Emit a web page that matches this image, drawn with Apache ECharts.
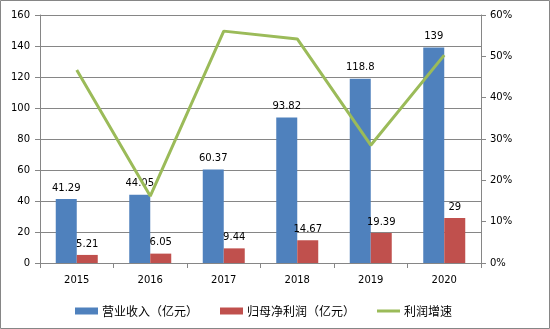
<!DOCTYPE html>
<html><head><meta charset="utf-8">
<script src="https://cdn.jsdelivr.net/npm/echarts@6/dist/echarts.min.js"></script>
<style>html,body{margin:0;padding:0;background:#fff}#c{width:550px;height:329px}</style>
</head><body><div id="c"></div>
<script>
var categories = ['2015','2016','2017','2018','2019','2020'];
var revenue = [41.29, 44.05, 60.37, 93.82, 118.8, 139];
var netProfit = [5.21, 6.05, 9.44, 14.67, 19.39, 29];
var profitGrowth = [0.467, 0.162, 0.561, 0.542, 0.285, 0.503];
var leftTicks = {min: 0, max: 160, interval: 20};
var rightTicks = {min: 0, max: 0.6, interval: 0.1};

var chart = echarts.init(document.getElementById('c'));
var numFont = {fontFamily: 'DejaVu Sans', fontSize: 10, color: '#000'};
chart.setOption({
  animation: false,
  graphic: [{type: 'rect', shape: {x: 0.5, y: 0.5, width: 549, height: 328}, style: {fill: 'none', stroke: '#868686', lineWidth: 1}}],
  grid: {left: 40, right: 69, top: 15, bottom: 66},
  legend: {
    top: 300, left: 70, itemWidth: 23, itemHeight: 7, itemGap: 22,
    textStyle: {fontFamily: 'Noto Sans CJK SC', fontSize: 12, color: '#000', padding: [0, 0, 0, -1]},
    data: [{name: '营业收入（亿元）', icon: 'rect'}, {name: '归母净利润（亿元）', icon: 'rect'}, {name: '利润增速', icon: 'path://M0,0h23v3h-23z'}]
  },
  xAxis: {
    type: 'category', data: categories, boundaryGap: true,
    axisLine: {lineStyle: {color: '#868686'}},
    axisTick: {show: true, alignWithLabel: false, length: 5, lineStyle: {color: '#868686'}},
    axisLabel: Object.assign({margin: 12}, numFont)
  },
  yAxis: [{
    type: 'value', min: leftTicks.min, max: leftTicks.max, interval: leftTicks.interval,
    axisLine: {show: true, lineStyle: {color: '#868686'}},
    axisTick: {show: true, length: 5, lineStyle: {color: '#868686'}},
    splitLine: {lineStyle: {color: '#868686'}},
    axisLabel: Object.assign({margin: 10}, numFont)
  }, {
    type: 'value', min: rightTicks.min, max: rightTicks.max, interval: rightTicks.interval,
    axisLine: {show: true, lineStyle: {color: '#868686'}},
    axisTick: {show: true, length: 5, lineStyle: {color: '#868686'}},
    splitLine: {show: false},
    axisLabel: Object.assign({margin: 9, formatter: function(v){return Math.round(v*100)+'%';}}, numFont)
  }],
  series: [{
    name: '营业收入（亿元）', type: 'bar', data: revenue, barWidth: 21, barGap: '0%',
    itemStyle: {color: '#4F81BD'},
    label: Object.assign({show: true, position: 'top', distance: 6}, numFont)
  }, {
    name: '归母净利润（亿元）', type: 'bar', data: netProfit, barWidth: 21, barGap: '0%',
    itemStyle: {color: '#C0504D'},
    label: Object.assign({show: true, position: 'top', distance: 6}, numFont)
  }, {
    name: '利润增速', type: 'line', yAxisIndex: 1, data: profitGrowth, symbol: 'none',
    lineStyle: {color: '#9BBB59', width: 3}, itemStyle: {color: '#9BBB59'}
  }]
});
</script></body></html>
